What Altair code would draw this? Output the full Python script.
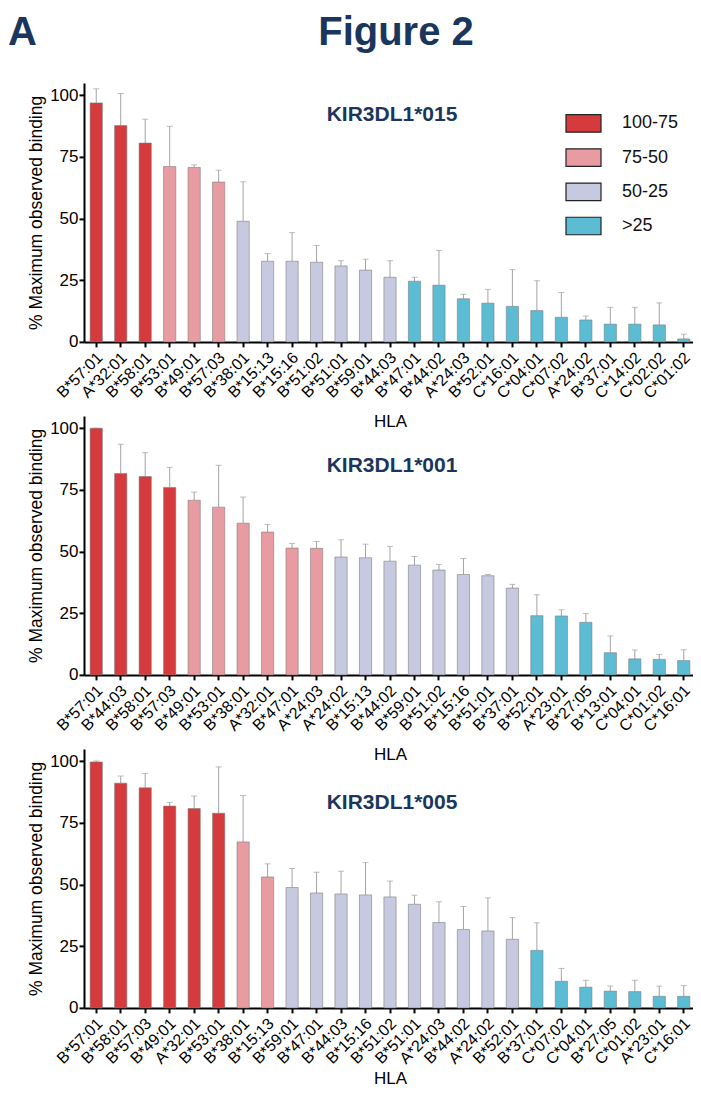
import altair as alt
import pandas as pd

CATS = ["100-75", "75-50", "50-25", ">25"]
COLORS = ["#d53b3d", "#e89ca1", "#c6c9df", "#5bbcd3"]
NAVY = "#1b365d"
FONT = "Liberation Sans"

# Panel 1: KIR3DL1*015
p1_hla = ["B*57:01", "A*32:01", "B*58:01", "B*53:01", "B*49:01", "B*57:03", "B*38:01",
          "B*15:13", "B*15:16", "B*51:02", "B*51:01", "B*59:01", "B*44:03", "B*47:01",
          "B*44:02", "A*24:03", "B*52:01", "C*16:01", "C*04:01", "C*07:02", "A*24:02",
          "B*37:01", "C*14:02", "C*02:02", "C*01:02"]
p1_mean = [96.9, 87.7, 80.6, 71.1, 70.7, 64.8, 48.9, 32.7, 32.7, 32.3, 30.8, 29.1, 26.2,
           24.6, 23.0, 17.5, 15.7, 14.4, 12.7, 10.0, 8.9, 7.2, 7.2, 6.9, 1.2]
p1_sd = [5.7, 13.0, 9.7, 16.3, 1.1, 4.8, 16.0, 3.1, 11.6, 6.8, 2.1, 4.4, 6.7,
         1.6, 14.1, 1.8, 5.6, 14.9, 12.1, 10.0, 1.6, 6.8, 6.8, 8.9, 1.9]

# Panel 2: KIR3DL1*001
p2_hla = ["B*57:01", "B*44:03", "B*58:01", "B*57:03", "B*49:01", "B*53:01", "B*38:01",
          "A*32:01", "B*47:01", "A*24:03", "A*24:02", "B*15:13", "B*44:02", "B*59:01",
          "B*51:02", "B*15:16", "B*51:01", "B*37:01", "B*52:01", "A*23:01", "B*27:05",
          "B*13:01", "C*04:01", "C*01:02", "C*16:01"]
p2_mean = [100.0, 81.6, 80.4, 76.0, 70.8, 68.0, 61.5, 57.9, 51.4, 51.3, 47.8, 47.5, 46.1,
           44.5, 42.5, 40.7, 40.2, 35.2, 24.0, 23.9, 21.3, 9.0, 6.5, 6.3, 5.8]
p2_sd = [0.0, 11.9, 9.7, 8.1, 3.3, 17.0, 10.6, 3.1, 1.9, 2.8, 7.0, 5.5, 6.0,
         3.5, 2.3, 6.5, 0.5, 1.5, 8.5, 2.5, 3.6, 6.8, 3.6, 2.0, 4.4]

# Panel 3: KIR3DL1*005
p3_hla = ["B*57:01", "B*58:01", "B*57:03", "B*49:01", "A*32:01", "B*53:01", "B*38:01",
          "B*15:13", "B*59:01", "B*47:01", "B*44:03", "B*15:16", "B*51:02", "B*51:01",
          "A*24:03", "B*44:02", "A*24:02", "B*52:01", "B*37:01", "C*07:02", "C*04:01",
          "B*27:05", "C*01:02", "A*23:01", "C*16:01"]
p3_mean = [99.7, 91.1, 89.2, 81.8, 80.8, 78.9, 67.3, 53.1, 48.8, 46.6, 46.2, 45.8, 45.0,
           42.0, 34.6, 31.8, 31.2, 27.8, 23.3, 10.8, 8.4, 6.8, 6.6, 4.7, 4.7]
p3_sd = [0.4, 2.9, 5.8, 1.5, 5.1, 18.8, 18.8, 5.3, 7.7, 8.4, 9.2, 13.1, 6.4,
         3.7, 8.4, 9.3, 13.4, 8.8, 11.2, 5.2, 2.8, 2.1, 4.6, 4.1, 4.4]

W = 612
H = 259


def category(v):
    if v >= 75:
        return CATS[0]
    if v >= 50:
        return CATS[1]
    if v >= 25:
        return CATS[2]
    return CATS[3]


def panel(hla, mean, sd, title, title_y, legend, header, x_title_pad):
    df = pd.DataFrame({"HLA": hla, "mean": mean, "sd": sd})
    df["upper"] = df["mean"] + df["sd"]
    df["cat"] = [category(v) for v in mean]

    x = alt.X("HLA:N", sort=hla, title="HLA",
              scale=alt.Scale(paddingInner=0.5, paddingOuter=0.25),
              axis=alt.Axis(labelAngle=-45, labelFontSize=16, labelPadding=2,
                            labelOffset=-2, titleFontSize=17, titlePadding=x_title_pad,
                            titleFontWeight="normal"))

    def y(field):
        return alt.Y(field, title="% Maximum observed binding",
                     scale=alt.Scale(domain=[0, 105], nice=False, zero=True),
                     axis=alt.Axis(values=[0, 25, 50, 75, 100], labelFontSize=17,
                                   labelPadding=1, titleFontSize=17.5, titlePadding=4,
                                   titleFontWeight="normal"))

    base = alt.Chart(df)
    if legend:
        leg = alt.Legend(orient="none", legendX=481, legendY=22, title=None,
                         symbolType="M-1,-0.5H1V0.5H-1Z", symbolSize=1225,
                         symbolStrokeColor="#222222", symbolStrokeWidth=1.2,
                         symbolOpacity=1, labelFontSize=18, labelOffset=20,
                         rowPadding=4.2, padding=0, labelFont=FONT, labelColor="#111111")
        color = alt.Color("cat:N", scale=alt.Scale(domain=CATS, range=COLORS), legend=leg)
    else:
        color = alt.Color("cat:N", scale=alt.Scale(domain=CATS, range=COLORS), legend=None)

    bars = base.mark_bar(stroke="#7a7a7a", strokeWidth=0.8, strokeOpacity=0.7,
                         opacity=1).encode(x=x, y=y("mean:Q"), color=color)
    rule = base.mark_rule(color="#a3a3a3", strokeWidth=1).encode(
        x=x, y=y("mean:Q"), y2="upper:Q")
    cap = base.mark_tick(color="#a3a3a3", thickness=1, size=6).encode(
        x=x, y=y("upper:Q"))

    ttl = alt.Chart(pd.DataFrame({"t": [title]})).mark_text(
        font=FONT, fontSize=21, fontWeight="bold", color=NAVY, align="center",
        baseline="middle").encode(text="t:N", x=alt.value(308), y=alt.value(title_y))

    layers = [rule, cap, bars, ttl]
    if header:
        a_txt = alt.Chart(pd.DataFrame({"t": ["A"]})).mark_text(
            font=FONT, fontSize=40, fontWeight="bold", color=NAVY, align="left",
            baseline="alphabetic").encode(text="t:N", x=alt.value(-76), y=alt.value(-37.5))
        fig = alt.Chart(pd.DataFrame({"t": ["Figure 2"]})).mark_text(
            font=FONT, fontSize=40, fontWeight="bold", color=NAVY, align="center",
            baseline="alphabetic").encode(text="t:N", x=alt.value(312), y=alt.value(-37.5))
        layers += [a_txt, fig]
    return alt.layer(*layers).properties(width=W, height=H)


p1 = panel(p1_hla, p1_mean, p1_sd, "KIR3DL1*015", 32, True, True, 12.5)
p2 = panel(p2_hla, p2_mean, p2_sd, "KIR3DL1*001", 50, False, False, 12.5)
p3 = panel(p3_hla, p3_mean, p3_sd, "KIR3DL1*005", 54, False, False, 3.5)

chart = alt.vconcat(p1, p2, p3, spacing=74, bounds="flush").resolve_scale(
    color="independent", x="independent").resolve_legend(color="independent").properties(
    padding={"left": 0, "top": 4.9, "right": -3, "bottom": 0}
).configure_view(stroke=None).configure_axis(
    domainColor="#000000", domainWidth=2, tickColor="#000000", tickWidth=2, tickSize=5,
    labelFont=FONT, titleFont=FONT, labelColor="#000000", titleColor="#000000", grid=False
)

chart.save("out.html", embed_options={"renderer": "svg", "actions": False})
